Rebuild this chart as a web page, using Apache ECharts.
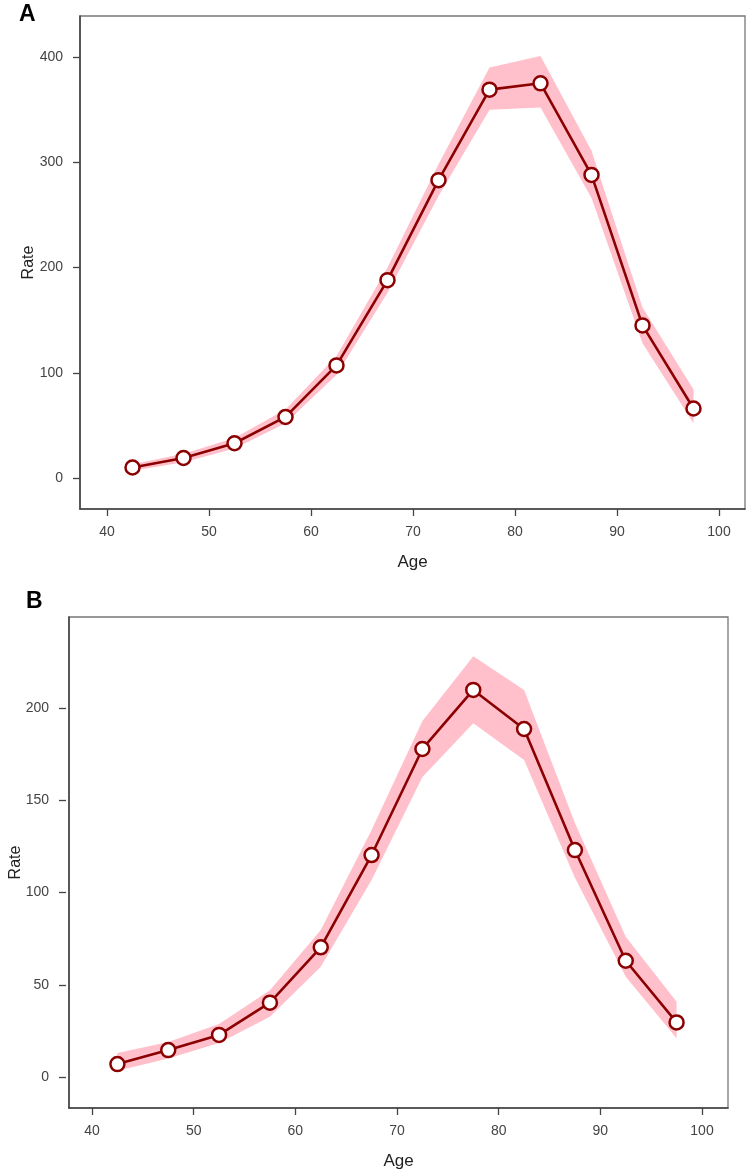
<!DOCTYPE html>
<html>
<head>
<meta charset="utf-8">
<script src="https://cdn.jsdelivr.net/npm/echarts@6/dist/echarts.min.js"></script>
<style>
  html, body { margin: 0; padding: 0; background: #fff; }
  #chart { width: 750px; height: 1172px; }
</style>
</head>
<body>
<div id="chart"></div>
<script>
// age group midpoints
const ages = [42.5, 47.5, 52.5, 57.5, 62.5, 67.5, 72.5, 77.5, 82.5, 87.5, 92.5, 97.5];

// panel A
const rateA  = [10, 19, 33, 58, 107, 188, 283, 369, 375, 288, 145, 66];
const lowerA = [7, 15, 28, 52, 98, 176, 268, 350, 352, 266, 128, 52];
const upperA = [13, 23, 38, 65, 116, 200, 298, 390, 401, 311, 162, 84];

// panel B
const rateB  = [7, 14.6, 22.8, 40.3, 70.3, 120.3, 177.8, 209.8, 188.6, 123, 63, 29.6];
const lowerB = [3.4, 10, 18.4, 32.7, 59.8, 106.8, 162.6, 191.7, 171.8, 108, 54.4, 21];
const upperB = [13, 19, 28.7, 47, 79.7, 133.9, 193, 228, 209.8, 137.7, 76, 40.8];

const yTicksA = [0, 400, 100];   // min, max, step
const yTicksB = [0, 200, 50];
const xTicks = [40, 100, 10];

const font = 'Liberation Sans';
const darkRed = '#8b0000';

let chart = echarts.init(document.getElementById('chart'), null, {renderer: 'canvas'});

// real axes (ticks + labels), pushed out to the frame with offset
function dataX(gridIndex, offset) {
  return {
    type: 'value', gridIndex: gridIndex, position: 'bottom', offset: offset,
    min: xTicks[0], max: xTicks[1], interval: xTicks[2],
    axisLine: {show: false, onZero: false},
    axisTick: {show: true, length: 7, lineStyle: {color: '#444', width: 1.3}},
    axisLabel: {margin: 16, fontSize: 14, color: '#444', fontFamily: font},
    splitLine: {show: false}
  }
}
function dataY(gridIndex, offset, t) {
  return {
    type: 'value', gridIndex: gridIndex, position: 'left', offset: offset,
    min: t[0], max: t[1], interval: t[2],
    axisLine: {show: false, onZero: false},
    axisTick: {show: true, length: 7, lineStyle: {color: '#444', width: 1.3}},
    axisLabel: {margin: 17, fontSize: 14, color: '#444', fontFamily: font},
    splitLine: {show: false}
  }
}
// frame axes: only the left/bottom lines and the axis titles
function frameX(gridIndex) {
  return {
    type: 'value', gridIndex: gridIndex, min: 0, max: 1,
    name: 'Age', nameLocation: 'middle', nameGap: 45,
    nameTextStyle: {fontSize: 17, color: '#222', fontFamily: font},
    axisLine: {show: true, onZero: false, lineStyle: {color: '#444', width: 1.6}},
    axisTick: {show: false}, axisLabel: {show: false}, splitLine: {show: false}
  }
}
function frameY(gridIndex, gap) {
  return {
    type: 'value', gridIndex: gridIndex, min: 0, max: 1,
    name: 'Rate', nameLocation: 'middle', nameGap: gap,
    nameTextStyle: {fontSize: 16, color: '#222', fontFamily: font},
    axisLine: {show: true, onZero: false, lineStyle: {color: '#444', width: 1.6}},
    axisTick: {show: false}, axisLabel: {show: false}, splitLine: {show: false}
  }
}

function band(axisIdx, lo, hi) {
  return {
    type: 'custom', xAxisIndex: axisIdx, yAxisIndex: axisIdx, silent: true, z: 1,
    data: ages.map((a, i) => [a, lo[i], hi[i]]),
    encode: {x: 0, y: [1, 2]},
    renderItem: function (params, api) {
      if (params.dataIndex !== 0) return;
      let pts = [];
      for (let i = 0; i < ages.length; i++) pts.push(api.coord([ages[i], hi[i]]));
      for (let i = ages.length - 1; i >= 0; i--) pts.push(api.coord([ages[i], lo[i]]));
      return {type: 'polygon', shape: {points: pts}, style: {fill: '#ffc0cb'}};
    }
  }
}
function rateLine(axisIdx, vals) {
  return {
    type: 'line', xAxisIndex: axisIdx, yAxisIndex: axisIdx, z: 3, clip: false,
    data: ages.map((a, i) => [a, vals[i]]),
    symbol: 'circle', symbolSize: 14, showAllSymbol: true,
    lineStyle: {color: darkRed, width: 2.6},
    itemStyle: {color: '#fff', borderColor: darkRed, borderWidth: 2.5}
  }
}

let option = {
  animation: false,
  backgroundColor: '#fff',
  title: [
    {text: 'A', left: 19, top: 3, padding: 0, textStyle: {fontSize: 23, fontWeight: 'bold', color: '#000', fontFamily: font}},
    {text: 'B', left: 26, top: 590, padding: 0, textStyle: {fontSize: 23, fontWeight: 'bold', color: '#000', fontFamily: font}}
  ],
  grid: [
    {left: 107, top: 57, width: 612, height: 421},                // A data
    {left: 80, top: 16, width: 665, height: 493, show: true,      // A frame
      borderColor: '#777', borderWidth: 1.3, backgroundColor: 'transparent'},
    {left: 92, top: 708, width: 610, height: 369},                // B data
    {left: 66, top: 617, width: 662, height: 491, show: true,     // B frame
      borderColor: '#777', borderWidth: 1.3, backgroundColor: 'transparent'}
  ],
  xAxis: [dataX(0, 31), frameX(1), dataX(2, 31), frameX(3)],
  yAxis: [dataY(0, 27, yTicksA), frameY(1, 43), dataY(2, 26, yTicksB), frameY(3, 45)],
  series: [
    band(0, lowerA, upperA),
    rateLine(0, rateA),
    band(2, lowerB, upperB),
    rateLine(2, rateB)
  ]
}
chart.setOption(option)
</script>
</body>
</html>
